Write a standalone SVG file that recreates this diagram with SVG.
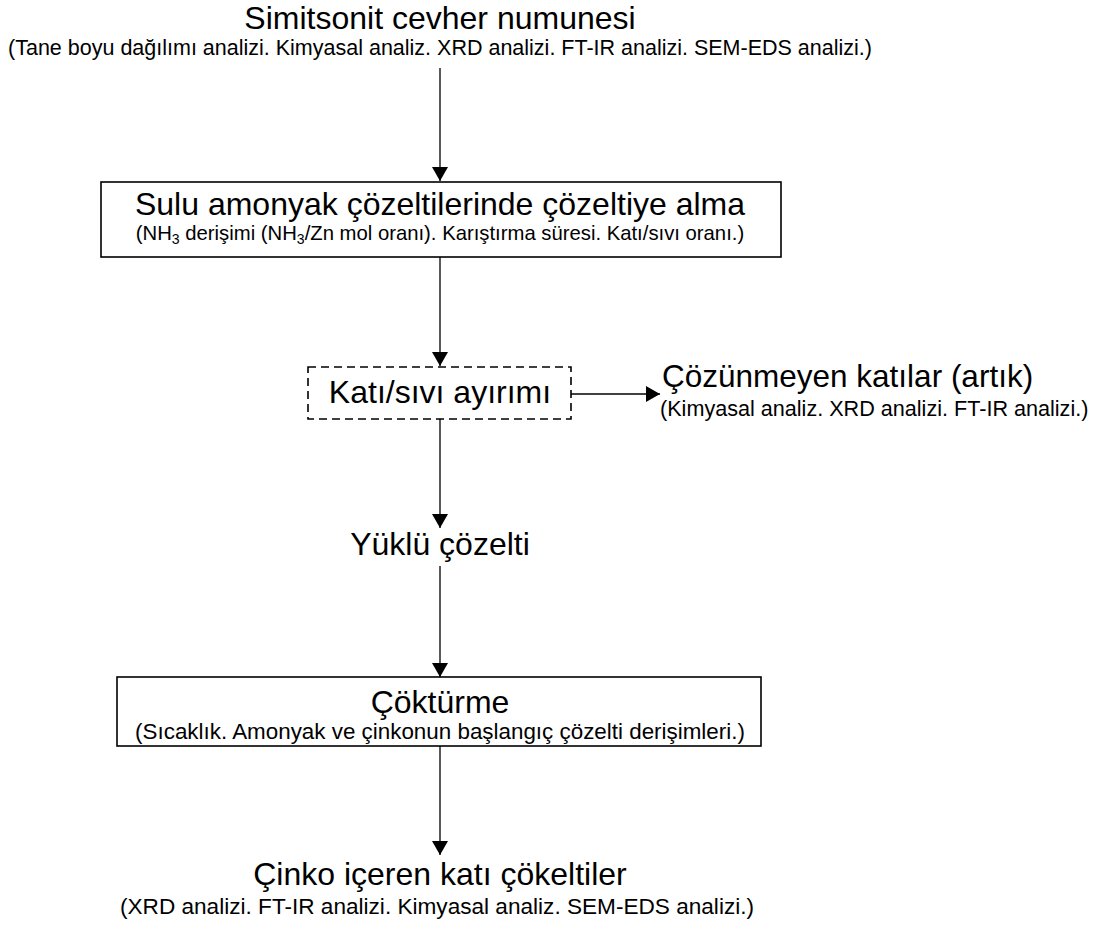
<svg xmlns="http://www.w3.org/2000/svg" width="1100" height="929" viewBox="0 0 1100 929">
<style>
text{font-family:"Liberation Sans",Arial,sans-serif;fill:#000}
.m{font-size:32px;text-anchor:middle}
.s{text-anchor:middle}
.ml{font-size:31.5px}
.box{fill:#fff;stroke:#000;stroke-width:1.6}
.dbox{fill:#fff;stroke:#000;stroke-width:1.6;stroke-dasharray:8 5}
.c{stroke:#000;stroke-width:1.3;fill:none;marker-end:url(#ah)}
</style>
<defs>
<marker id="ah" markerWidth="14" markerHeight="16" refX="14" refY="8" orient="auto" markerUnits="userSpaceOnUse" viewBox="0 0 14 16"><path d="M0,0 L14,8 L0,16 z" fill="#000"/></marker>
</defs>
<rect width="1100" height="929" fill="#fff"/>
<g id="connectors">
<line class="c" x1="440" y1="68" x2="440" y2="181"/>
<line class="c" x1="440" y1="257" x2="440" y2="366"/>
<line class="c" x1="571" y1="394" x2="660" y2="394"/>
<line class="c" x1="440" y1="419" x2="440" y2="528"/>
<line class="c" x1="440" y1="566" x2="440" y2="677"/>
<line class="c" x1="440" y1="746" x2="440" y2="855"/>
</g>
<g id="node-ore">
<text class="m" x="440" y="29">Simitsonit cevher numunesi</text>
<text class="s" x="440" y="55" font-size="21.5">(Tane boyu dağılımı analizi. Kimyasal analiz. XRD analizi. FT-IR analizi. SEM-EDS analizi.)</text>
</g>
<g id="node-leach">
<rect class="box" x="101" y="182" width="680" height="75"/>
<text class="m" x="440" y="215">Sulu amonyak çözeltilerinde çözeltiye alma</text>
<text class="s" x="440" y="240" font-size="20.3">(NH<tspan font-size="14" dy="4">3</tspan><tspan dy="-4"> derişimi (NH</tspan><tspan font-size="14" dy="4">3</tspan><tspan dy="-4">/Zn mol oranı). Karıştırma süresi. Katı/sıvı oranı.)</tspan></text>
</g>
<g id="node-separation">
<rect class="dbox" x="308" y="367" width="263" height="52"/>
<text class="m" x="440" y="403">Katı/sıvı ayırımı</text>
</g>
<g id="node-residue">
<text class="ml" x="662" y="387">Çözünmeyen katılar (artık)</text>
<text x="660" y="416" font-size="21.6">(Kimyasal analiz. XRD analizi. FT-IR analizi.)</text>
</g>
<g id="node-loaded">
<text class="m" x="440" y="555">Yüklü çözelti</text>
</g>
<g id="node-precip">
<rect class="box" x="117" y="677" width="644" height="69"/>
<text class="m" x="440" y="713">Çöktürme</text>
<text class="s" x="440" y="739" font-size="22.4">(Sıcaklık. Amonyak ve çinkonun başlangıç çözelti derişimleri.)</text>
</g>
<g id="node-product">
<text class="m" x="440" y="885">Çinko içeren katı çökeltiler</text>
<text class="s" x="437" y="914" font-size="22.6">(XRD analizi. FT-IR analizi. Kimyasal analiz. SEM-EDS analizi.)</text>
</g>
</svg>
